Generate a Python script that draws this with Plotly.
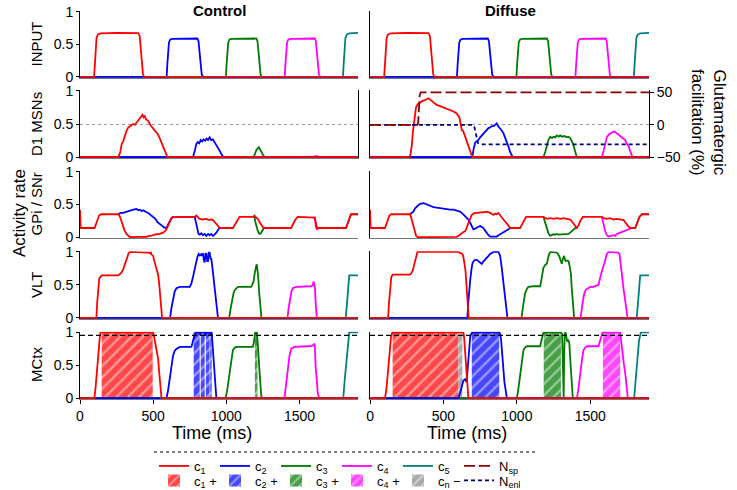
import plotly.graph_objects as go

OUT_PATH = "out.html"

# ---------------------------------------------------------------- data
# every series is a list of (time in ms, activity) pairs

ROW_LABELS = ["INPUT", "D1 MSNs", "GPi / SNr", "VLT", "MCtx"]
CONDITIONS = ["Control", "Diffuse"]
X_TICKS = [0, 500, 1000, 1500]
Y_TICKS = [0, 0.5, 1]
FAC_TICKS = [-50, 0, 50]
T_END = 1900
THRESHOLD = 0.955

# input is the same in both conditions
INPUT_C1 = [(0, 0), (96, 0), (102, 0.2), (107, 0.45), (113, 0.6), (122, 0.65), (140, 0.67), (250, 0.675),
            (398, 0.672), (408, 0.63), (415, 0.45), (422, 0.2), (430, 0.05), (438, 0), (1900, 0)]
INPUT_C2 = [(0, 0), (592, 0), (597, 0.2), (602, 0.42), (608, 0.53), (617, 0.575), (632, 0.585), (802, 0.59),
            (810, 0.55), (817, 0.38), (824, 0.16), (832, 0.04), (842, 0), (1900, 0)]
INPUT_C3 = [(0, 0), (997, 0), (1002, 0.2), (1007, 0.42), (1013, 0.53), (1022, 0.575), (1037, 0.585),
            (1205, 0.59), (1213, 0.55), (1220, 0.38), (1227, 0.16), (1234, 0.04), (1242, 0), (1900, 0)]
INPUT_C4 = [(0, 0), (1399, 0), (1404, 0.2), (1409, 0.42), (1415, 0.53), (1424, 0.575), (1439, 0.585),
            (1604, 0.59), (1612, 0.55), (1619, 0.38), (1626, 0.16), (1633, 0.04), (1642, 0), (1900, 0)]
INPUT_C5 = [(0, 0), (1797, 0), (1802, 0.2), (1808, 0.45), (1814, 0.6), (1823, 0.65), (1840, 0.67), (1900, 0.675)]

CTRL_D1_C1 = [(0, 0), (262, 0), (275, 0.08), (285, 0.2), (295, 0.24), (305, 0.33), (318, 0.4), (330, 0.45),
              (341, 0.47), (352, 0.49), (364, 0.5), (376, 0.49), (386, 0.52), (398, 0.55), (409, 0.58),
              (418, 0.6), (427, 0.64), (435, 0.6), (443, 0.62), (452, 0.57), (466, 0.55), (480, 0.49),
              (500, 0.44), (515, 0.39), (534, 0.34), (546, 0.28), (557, 0.22), (568, 0.14), (580, 0.08),
              (590, 0.03), (598, 0), (1900, 0)]
CTRL_D1_C2 = [(0, 0), (772, 0), (785, 0.1), (795, 0.2), (805, 0.23), (815, 0.21), (825, 0.26), (835, 0.24),
              (845, 0.27), (855, 0.25), (865, 0.28), (875, 0.26), (886, 0.3), (896, 0.26), (908, 0.27),
              (920, 0.23), (935, 0.17), (954, 0.1), (968, 0.04), (981, 0), (1900, 0)]
CTRL_D1_C3 = [(0, 0), (1186, 0), (1196, 0.05), (1205, 0.11), (1214, 0.13), (1222, 0.15), (1230, 0.12),
              (1240, 0.07), (1252, 0.03), (1266, 0), (1900, 0)]
CTRL_D1_C4 = [(0, 0), (1598, 0), (1606, 0.015), (1613, 0.02), (1622, 0.015), (1632, 0), (1900, 0)]
CTRL_D1_C5 = [(0, 0), (1900, 0)]

DIFF_D1_C1 = [(0, 0), (268, 0), (276, 0.05), (284, 0.17), (292, 0.38), (300, 0.56), (307, 0.68), (313, 0.75),
              (325, 0.8), (341, 0.83), (358, 0.85), (375, 0.86), (387, 0.88), (398, 0.89), (409, 0.87),
              (420, 0.85), (436, 0.82), (454, 0.79), (477, 0.77), (500, 0.75), (522, 0.73), (545, 0.71),
              (568, 0.69), (590, 0.66), (602, 0.63), (609, 0.6), (617, 0.5), (625, 0.41), (633, 0.4),
              (641, 0.36), (650, 0.3), (659, 0.24), (670, 0.16), (682, 0.09), (690, 0.04), (697, 0), (1900, 0)]
DIFF_D1_C2 = [(0, 0), (697, 0), (705, 0.12), (716, 0.22), (727, 0.24), (738, 0.26), (750, 0.3), (761, 0.33),
              (772, 0.36), (784, 0.39), (795, 0.42), (807, 0.44), (818, 0.45), (830, 0.47), (841, 0.47),
              (852, 0.49), (863, 0.51), (872, 0.47), (886, 0.44), (898, 0.4), (909, 0.36), (920, 0.3),
              (932, 0.24), (943, 0.16), (954, 0.08), (965, 0.02), (972, 0), (1900, 0)]
DIFF_D1_C3 = [(0, 0), (1181, 0), (1193, 0.08), (1204, 0.17), (1215, 0.26), (1227, 0.31), (1240, 0.29),
              (1250, 0.31), (1262, 0.3), (1272, 0.33), (1285, 0.31), (1295, 0.33), (1310, 0.31), (1325, 0.32),
              (1340, 0.3), (1352, 0.31), (1363, 0.29), (1375, 0.24), (1386, 0.18), (1398, 0.08), (1409, 0),
              (1900, 0)]
DIFF_D1_C4 = [(0, 0), (1579, 0), (1591, 0.1), (1602, 0.22), (1613, 0.3), (1625, 0.34), (1636, 0.36),
              (1648, 0.37), (1659, 0.39), (1670, 0.38), (1681, 0.36), (1693, 0.34), (1704, 0.32), (1715, 0.31),
              (1727, 0.29), (1738, 0.26), (1750, 0.2), (1761, 0.17), (1772, 0.09), (1784, 0.02), (1795, 0),
              (1900, 0)]
DIFF_D1_C5 = [(0, 0), (1900, 0)]

# glutamatergic facilitation (%), diffuse condition only
N_SP = [(0, 0), (322, 0), (328, 3), (333, 30), (338, 45), (345, 50), (1900, 50)]
N_ENK = [(0, 0), (700, 0), (710, -3), (718, -12), (726, -22), (735, -28), (750, -30), (1900, -30)]

# GPi / SNr: c1 is drawn in full, the others only where they leave the c1 trace
CTRL_GPI_C1 = [(0, 0.42), (4, 0.14), (100, 0.14), (110, 0.2), (120, 0.28), (130, 0.33), (145, 0.35),
               (264, 0.35), (275, 0.3), (285, 0.22), (295, 0.16), (305, 0.1), (318, 0.05), (330, 0.02),
               (341, 0.0), (400, 0.005), (454, 0.005), (470, 0.02), (490, 0.025), (523, 0.045), (545, 0.05),
               (568, 0.07), (585, 0.1), (595, 0.14), (605, 0.2), (613, 0.24), (625, 0.29), (636, 0.31),
               (784, 0.31), (795, 0.33), (805, 0.3), (818, 0.28), (840, 0.27), (860, 0.28), (880, 0.265),
               (900, 0.27), (910, 0.26), (932, 0.21), (945, 0.17), (956, 0.14), (1045, 0.14), (1060, 0.2),
               (1075, 0.27), (1090, 0.31), (1185, 0.31), (1193, 0.33), (1203, 0.3), (1215, 0.28), (1230, 0.22),
               (1245, 0.16), (1255, 0.14), (1443, 0.14), (1458, 0.2), (1472, 0.27), (1488, 0.31), (1600, 0.31),
               (1606, 0.3), (1613, 0.2), (1620, 0.14), (1818, 0.14), (1830, 0.22), (1842, 0.31), (1852, 0.35),
               (1900, 0.35)]
CTRL_GPI_C2 = [(264, 0.35), (275, 0.37), (295, 0.37), (318, 0.39), (340, 0.4), (364, 0.42), (386, 0.43),
               (398, 0.41), (409, 0.42), (420, 0.4), (432, 0.41), (443, 0.39), (454, 0.38), (466, 0.37),
               (477, 0.35), (490, 0.33), (500, 0.32), (515, 0.28), (530, 0.23), (545, 0.2), (560, 0.17),
               (575, 0.15), (590, 0.14), (605, 0.2), (625, 0.29), (636, 0.31), (784, 0.31), (795, 0.2),
               (802, 0.1), (810, 0.05), (818, 0.04), (830, 0.06), (841, 0.03), (852, 0.05), (863, 0.02),
               (875, 0.05), (886, 0.03), (897, 0.05), (909, 0.02), (920, 0.04), (932, 0.07), (943, 0.11),
               (954, 0.14), (970, 0.14)]
CTRL_GPI_C3 = [(1185, 0.31), (1193, 0.3), (1200, 0.22), (1207, 0.15), (1215, 0.1), (1222, 0.06), (1230, 0.05),
               (1238, 0.07), (1248, 0.11), (1258, 0.14), (1270, 0.14)]
CTRL_GPI_C4 = [(1600, 0.31), (1606, 0.26), (1613, 0.15), (1620, 0.12), (1627, 0.13), (1635, 0.14)]
CTRL_GPI_C5 = [(1818, 0.14), (1830, 0.22), (1842, 0.31), (1852, 0.35), (1900, 0.35)]

DIFF_GPI_C1 = [(0, 0.42), (4, 0.14), (102, 0.14), (112, 0.2), (122, 0.28), (132, 0.33), (145, 0.35),
               (273, 0.35), (284, 0.27), (295, 0.17), (305, 0.08), (314, 0.02), (325, 0.0), (560, 0.0),
               (590, 0.005), (602, 0.02), (613, 0.04), (625, 0.07), (636, 0.08), (648, 0.09), (659, 0.15),
               (670, 0.21), (682, 0.29), (693, 0.34), (705, 0.36), (716, 0.37), (738, 0.37), (750, 0.38),
               (772, 0.38), (795, 0.39), (818, 0.37), (841, 0.34), (852, 0.36), (863, 0.35), (875, 0.37),
               (886, 0.33), (898, 0.3), (909, 0.27), (925, 0.22), (943, 0.17), (956, 0.14), (1022, 0.14),
               (1035, 0.2), (1050, 0.27), (1063, 0.31), (1181, 0.31), (1193, 0.29), (1210, 0.28), (1227, 0.29),
               (1250, 0.28), (1272, 0.29), (1295, 0.28), (1318, 0.29), (1340, 0.28), (1363, 0.27), (1375, 0.24),
               (1386, 0.21), (1398, 0.17), (1409, 0.14), (1420, 0.18), (1435, 0.26), (1450, 0.31), (1579, 0.31),
               (1590, 0.29), (1613, 0.28), (1636, 0.29), (1659, 0.27), (1681, 0.28), (1704, 0.27), (1727, 0.26),
               (1740, 0.22), (1752, 0.18), (1765, 0.15), (1784, 0.14), (1806, 0.14), (1820, 0.22), (1835, 0.31),
               (1852, 0.35), (1900, 0.35)]
DIFF_GPI_C2 = [(273, 0.35), (284, 0.37), (295, 0.39), (307, 0.44), (318, 0.47), (330, 0.49), (341, 0.51),
               (352, 0.52), (364, 0.52), (375, 0.51), (386, 0.5), (398, 0.48), (409, 0.47), (432, 0.46),
               (454, 0.45), (477, 0.44), (500, 0.44), (522, 0.43), (545, 0.42), (568, 0.42), (590, 0.4),
               (613, 0.39), (630, 0.36), (648, 0.32), (659, 0.3), (670, 0.27), (682, 0.22), (693, 0.17),
               (704, 0.12), (716, 0.13), (727, 0.15), (738, 0.16), (750, 0.17), (761, 0.15), (772, 0.14),
               (784, 0.1), (795, 0.06), (807, 0.03), (818, 0.01), (829, 0.01), (841, 0.0), (852, 0.01),
               (863, 0.01), (875, 0.03), (886, 0.045), (898, 0.05), (909, 0.07), (920, 0.08), (932, 0.1),
               (943, 0.12), (954, 0.14), (966, 0.14)]
DIFF_GPI_C3 = [(1181, 0.31), (1193, 0.22), (1204, 0.12), (1215, 0.06), (1227, 0.02), (1238, 0.03),
               (1250, 0.045), (1262, 0.04), (1272, 0.05), (1284, 0.04), (1295, 0.04), (1306, 0.05), (1318, 0.04),
               (1330, 0.045), (1340, 0.04), (1352, 0.05), (1363, 0.07), (1375, 0.095), (1386, 0.12), (1398, 0.14),
               (1409, 0.14)]
DIFF_GPI_C4 = [(1579, 0.31), (1590, 0.2), (1602, 0.09), (1613, 0.03), (1625, 0.01), (1640, 0.02), (1659, 0.03),
               (1670, 0.02), (1681, 0.05), (1704, 0.07), (1727, 0.09), (1750, 0.11), (1765, 0.13), (1784, 0.14)]
DIFF_GPI_C5 = [(1806, 0.14), (1820, 0.22), (1835, 0.31), (1852, 0.35), (1900, 0.35)]

CTRL_VLT_C1 = [(0, 0), (112, 0), (118, 0.25), (125, 0.5), (132, 0.6), (148, 0.645), (261, 0.645), (272, 0.66),
               (284, 0.69), (296, 0.74), (307, 0.82), (315, 0.86), (323, 0.94), (332, 0.98), (341, 1.0),
               (450, 1.0), (470, 0.99), (477, 0.98), (485, 0.99), (489, 0.96), (500, 0.94), (506, 0.88),
               (511, 0.84), (520, 0.78), (527, 0.72), (534, 0.65), (541, 0.52), (547, 0.35), (552, 0.18),
               (557, 0.06), (561, 0), (1900, 0)]
CTRL_VLT_C2 = [(0, 0), (616, 0), (625, 0.15), (636, 0.3), (647, 0.4), (659, 0.45), (682, 0.47), (750, 0.47),
               (761, 0.52), (770, 0.6), (779, 0.69), (787, 0.8), (795, 0.87), (803, 0.93), (811, 0.97),
               (818, 0.95), (825, 0.97), (829, 0.94), (835, 0.97), (841, 0.97), (846, 0.88), (852, 0.84),
               (857, 0.97), (863, 0.98), (869, 0.86), (875, 0.86), (880, 0.99), (886, 0.99), (892, 0.9),
               (897, 0.9), (903, 0.8), (909, 0.67), (915, 0.55), (920, 0.42), (926, 0.27), (932, 0.13),
               (938, 0.04), (943, 0), (1900, 0)]
CTRL_VLT_C3 = [(0, 0), (1020, 0), (1030, 0.15), (1041, 0.3), (1050, 0.38), (1057, 0.42), (1068, 0.45),
               (1079, 0.47), (1170, 0.47), (1178, 0.5), (1186, 0.55), (1193, 0.66), (1200, 0.77), (1205, 0.8),
               (1209, 0.81), (1213, 0.75), (1218, 0.62), (1224, 0.4), (1231, 0.18), (1236, 0.06), (1240, 0),
               (1900, 0)]
CTRL_VLT_C4 = [(0, 0), (1418, 0), (1426, 0.15), (1436, 0.33), (1445, 0.4), (1454, 0.45), (1477, 0.47),
               (1579, 0.48), (1590, 0.5), (1597, 0.55), (1601, 0.52), (1606, 0.45), (1610, 0.25), (1613, 0.08),
               (1618, 0), (1900, 0)]
CTRL_VLT_C5 = [(0, 0), (1816, 0), (1824, 0.2), (1832, 0.45), (1840, 0.645), (1900, 0.645)]

DIFF_VLT_C1 = [(0, 0), (123, 0), (130, 0.25), (138, 0.5), (145, 0.62), (154, 0.655), (273, 0.655), (282, 0.68),
               (291, 0.72), (300, 0.8), (307, 0.87), (315, 0.94), (323, 1.0), (600, 1.0), (613, 0.99),
               (622, 0.98), (629, 0.97), (635, 0.93), (641, 0.87), (645, 0.8), (650, 0.72), (655, 0.55),
               (659, 0.42), (664, 0.22), (668, 0.08), (672, 0), (1900, 0)]
DIFF_VLT_C2 = [(0, 0), (663, 0), (668, 0.2), (675, 0.42), (682, 0.57), (690, 0.72), (697, 0.82), (705, 0.86),
               (716, 0.88), (727, 0.88), (738, 0.86), (750, 0.84), (761, 0.82), (770, 0.85), (784, 0.88),
               (795, 0.91), (807, 0.94), (818, 0.97), (830, 0.99), (841, 1.0), (875, 1.0), (880, 0.98),
               (886, 0.94), (895, 0.8), (904, 0.62), (912, 0.45), (920, 0.28), (928, 0.12), (936, 0), (1900, 0)]
DIFF_VLT_C3 = [(0, 0), (1032, 0), (1044, 0.2), (1056, 0.37), (1068, 0.44), (1079, 0.47), (1113, 0.48),
               (1159, 0.48), (1165, 0.55), (1170, 0.62), (1176, 0.7), (1181, 0.76), (1192, 0.8), (1204, 0.82),
               (1212, 0.9), (1220, 0.97), (1230, 1.0), (1265, 1.0), (1272, 0.99), (1280, 0.97), (1288, 0.94),
               (1297, 0.88), (1306, 0.82), (1314, 0.9), (1322, 0.94), (1328, 0.88), (1334, 0.86), (1343, 0.87),
               (1352, 0.86), (1360, 0.78), (1368, 0.67), (1374, 0.45), (1381, 0.18), (1386, 0.05), (1390, 0),
               (1900, 0)]
DIFF_VLT_C4 = [(0, 0), (1434, 0), (1446, 0.2), (1459, 0.37), (1470, 0.43), (1481, 0.45), (1500, 0.47),
               (1522, 0.47), (1545, 0.49), (1556, 0.5), (1564, 0.58), (1572, 0.67), (1584, 0.75), (1595, 0.82),
               (1604, 0.9), (1613, 0.97), (1625, 1.0), (1681, 1.0), (1690, 0.99), (1699, 0.97), (1707, 0.85),
               (1715, 0.67), (1723, 0.5), (1731, 0.37), (1740, 0.22), (1749, 0.08), (1754, 0), (1900, 0)]
DIFF_VLT_C5 = [(0, 0), (1816, 0), (1824, 0.2), (1832, 0.45), (1840, 0.645), (1900, 0.645)]

CTRL_MC_C1 = [(0, 0), (98, 0), (106, 0.15), (114, 0.38), (122, 0.62), (130, 0.88), (137, 0.97), (141, 1.0),
              (500, 1.0), (505, 0.95), (511, 0.88), (520, 0.8), (527, 0.73), (534, 0.6), (541, 0.4), (547, 0.2),
              (552, 0.06), (557, 0), (1900, 0)]
CTRL_MC_C2 = [(0, 0), (591, 0), (602, 0.12), (613, 0.28), (625, 0.48), (636, 0.65), (647, 0.72), (659, 0.75),
              (682, 0.78), (761, 0.78), (770, 0.85), (777, 0.93), (784, 0.98), (791, 1.0), (818, 1.0),
              (822, 0.96), (826, 1.0), (852, 1.0), (856, 0.95), (860, 1.0), (886, 1.0), (890, 0.96), (894, 1.0),
              (900, 1.0), (906, 0.8), (912, 0.55), (920, 0.28), (926, 0.12), (932, 0), (1900, 0)]
CTRL_MC_C3 = [(0, 0), (995, 0), (1006, 0.12), (1018, 0.28), (1030, 0.5), (1045, 0.73), (1058, 0.77),
              (1072, 0.78), (1181, 0.78), (1188, 0.85), (1193, 0.93), (1198, 1.0), (1209, 1.0), (1214, 0.88),
              (1218, 0.73), (1224, 0.5), (1231, 0.23), (1238, 0.06), (1243, 0), (1900, 0)]
CTRL_MC_C4 = [(0, 0), (1397, 0), (1408, 0.2), (1420, 0.48), (1432, 0.65), (1443, 0.75), (1454, 0.77),
              (1465, 0.78), (1560, 0.79), (1590, 0.8), (1602, 0.83), (1606, 0.75), (1610, 0.5), (1613, 0.38),
              (1618, 0.2), (1625, 0.08), (1632, 0.02), (1640, 0), (1900, 0)]
CTRL_MC_C5 = [(0, 0), (1799, 0), (1810, 0.3), (1822, 0.63), (1832, 0.88), (1840, 1.0), (1900, 1.0)]

DIFF_MC_C1 = [(0, 0), (102, 0), (112, 0.15), (125, 0.43), (135, 0.7), (143, 0.93), (152, 1.0), (636, 1.0),
              (641, 0.92), (645, 0.8), (650, 0.68), (655, 0.55), (660, 0.45), (665, 0.2), (670, 0), (1900, 0)]
DIFF_MC_C2 = [(0, 0), (602, 0), (613, 0.08), (625, 0.2), (636, 0.27), (648, 0.29), (656, 0.25), (660, 0.3),
              (668, 0.55), (675, 0.8), (682, 0.93), (690, 0.98), (697, 1.0), (880, 1.0), (886, 0.98),
              (893, 0.88), (900, 0.72), (907, 0.48), (915, 0.25), (924, 0.08), (932, 0), (1900, 0)]
DIFF_MC_C3 = [(0, 0), (1000, 0), (1009, 0.12), (1018, 0.28), (1030, 0.5), (1045, 0.73), (1056, 0.77),
              (1068, 0.79), (1159, 0.79), (1165, 0.85), (1170, 0.93), (1178, 0.98), (1183, 1.0), (1300, 1.0),
              (1308, 0.98), (1313, 0.5), (1316, 0.02), (1319, 0.02), (1322, 0.6), (1326, 0.98), (1332, 1.0),
              (1337, 0.92), (1343, 0.86), (1350, 0.88), (1357, 0.85), (1362, 0.65), (1368, 0.38), (1374, 0.15),
              (1381, 0), (1900, 0)]
DIFF_MC_C4 = [(0, 0), (1409, 0), (1420, 0.15), (1431, 0.38), (1443, 0.58), (1454, 0.73), (1465, 0.77),
              (1477, 0.79), (1556, 0.79), (1565, 0.86), (1572, 0.93), (1584, 1.0), (1704, 1.0), (1709, 0.9),
              (1715, 0.73), (1727, 0.55), (1738, 0.38), (1745, 0.2), (1749, 0.08), (1755, 0.02), (1761, 0),
              (1900, 0)]
DIFF_MC_C5 = [(0, 0), (1799, 0), (1810, 0.3), (1822, 0.63), (1832, 0.88), (1845, 1.0), (1900, 1.0)]

# selected-action windows in MCtx (hatched)
CTRL_HATCH_START = [148, 777, 825, 860, 890, 1195]
CTRL_HATCH_END = [497, 818, 852, 886, 900, 1213]
CTRL_HATCH_KIND = ["c1", "c2", "c2", "c2", "c2", "c3"]
DIFF_HATCH_START = [154, 602, 693, 1183, 1586]
DIFF_HATCH_END = [602, 629, 880, 1300, 1704]
DIFF_HATCH_KIND = ["c1", "cn", "c2", "c3", "c4"]

# ---------------------------------------------------------------- style

FONT = "Liberation Sans, Arial, Helvetica, sans-serif"
LINE_COLORS = {"c1": "#ff0000", "c2": "#0000ff", "c3": "#007a00", "c4": "#ff00ff", "c5": "#008080"}
HATCH_COLORS = {"c1": "rgba(255,0,0,0.72)", "c2": "rgba(0,0,255,0.72)", "c3": "rgba(0,122,0,0.72)",
                "c4": "rgba(255,0,255,0.72)", "cn": "rgba(140,140,140,0.75)"}
NAMES = {"c1": "c<sub>1</sub>", "c2": "c<sub>2</sub>", "c3": "c<sub>3</sub>", "c4": "c<sub>4</sub>",
         "c5": "c<sub>5</sub>"}
HATCH_NAMES = {"c1": "c<sub>1</sub> +", "c2": "c<sub>2</sub> +", "c3": "c<sub>3</sub> +",
               "c4": "c<sub>4</sub> +", "cn": "c<sub>n</sub> −"}

W, H = 737, 490
PLOT_LEFT, PLOT_RIGHT, PLOT_TOP, PLOT_BOTTOM = 80, 649, 11, 399   # pixels
M_L, M_T = PLOT_LEFT, PLOT_TOP
M_R, M_B = W - PLOT_RIGHT, H - PLOT_BOTTOM
X_DOM = [(0.0, 0.4886), (0.5097, 1.0)]
Y_DOM = [(0.828, 1.0), (0.621, 0.796), (0.415, 0.588), (0.207, 0.381), (0.0, 0.1735)]
Y_RANGE = [-0.012, 1.012]


def px_x(px):
    return (px - PLOT_LEFT) / (PLOT_RIGHT - PLOT_LEFT)


def px_y(py):
    return 1 - (py - PLOT_TOP) / (PLOT_BOTTOM - PLOT_TOP)


def panel_series():
    ctrl = [
        [INPUT_C5, INPUT_C4, INPUT_C3, INPUT_C2, INPUT_C1],
        [CTRL_D1_C5, CTRL_D1_C4, CTRL_D1_C3, CTRL_D1_C2, CTRL_D1_C1],
        [CTRL_GPI_C5, CTRL_GPI_C4, CTRL_GPI_C3, CTRL_GPI_C2, CTRL_GPI_C1],
        [CTRL_VLT_C5, CTRL_VLT_C4, CTRL_VLT_C3, CTRL_VLT_C2, CTRL_VLT_C1],
        [CTRL_MC_C5, CTRL_MC_C4, CTRL_MC_C3, CTRL_MC_C2, CTRL_MC_C1],
    ]
    diff = [
        [INPUT_C5, INPUT_C4, INPUT_C3, INPUT_C2, INPUT_C1],
        [DIFF_D1_C5, DIFF_D1_C4, DIFF_D1_C3, DIFF_D1_C2, DIFF_D1_C1],
        [DIFF_GPI_C5, DIFF_GPI_C4, DIFF_GPI_C3, DIFF_GPI_C2, DIFF_GPI_C1],
        [DIFF_VLT_C5, DIFF_VLT_C4, DIFF_VLT_C3, DIFF_VLT_C2, DIFF_VLT_C1],
        [DIFF_MC_C5, DIFF_MC_C4, DIFF_MC_C3, DIFF_MC_C2, DIFF_MC_C1],
    ]
    return [ctrl, diff]


def add_hatches(fig, axis_n, starts, ends, kinds, legend_kinds):
    for kind in ["c1", "cn", "c2", "c3", "c4"]:
        idx = [i for i, k in enumerate(kinds) if k == kind]
        if not idx:
            continue
        fig.add_trace(go.Bar(
            x=[(starts[i] + ends[i]) / 2 for i in idx],
            width=[ends[i] - starts[i] for i in idx],
            y=[1.0 for _ in idx],
            base=0,
            marker=dict(color=HATCH_COLORS[kind], line=dict(width=0),
                        pattern=dict(shape="/", fillmode="overlay", fgcolor="white",
                                     fgopacity=0.45, size=8, solidity=0.28)),
            name=HATCH_NAMES[kind],
            legend="legend2",
            legendrank=["c1", "c2", "c3", "c4", "cn"].index(kind) + 1,
            showlegend=kind in legend_kinds,
            xaxis=f"x{axis_n}", yaxis=f"y{axis_n}",
            hoverinfo="skip",
        ))


def build_figure():
    fig = go.Figure()
    series = panel_series()
    channels = ["c5", "c4", "c3", "c2", "c1"]

    # hatched areas first so the lines sit on top
    add_hatches(fig, 9, CTRL_HATCH_START, CTRL_HATCH_END, CTRL_HATCH_KIND, {"c1", "c2", "c3"})
    add_hatches(fig, 10, DIFF_HATCH_START, DIFF_HATCH_END, DIFF_HATCH_KIND, {"c4", "cn"})

    for col in range(2):
        for row in range(5):
            n = row * 2 + col + 1
            for ch, pts in zip(channels, series[col][row]):
                fig.add_trace(go.Scatter(
                    x=[p[0] for p in pts], y=[p[1] for p in pts],
                    mode="lines", line=dict(color=LINE_COLORS[ch], width=1.8),
                    name=NAMES[ch], legend="legend",
                    legendrank=int(ch[1]),
                    showlegend=(row == 0 and col == 0),
                    xaxis=f"x{n}", yaxis=f"y{n}", hoverinfo="skip",
                ))

    # facilitation on the right-hand axis of the diffuse D1 panel
    fig.add_trace(go.Scatter(
        x=[p[0] for p in N_ENK], y=[p[1] for p in N_ENK], mode="lines",
        line=dict(color="#000080", width=1.8, dash="4px,3px"),
        name="N<sub>enk</sub>", legend="legend2", legendrank=6,
        xaxis="x4", yaxis="y11", hoverinfo="skip",
    ))
    fig.add_trace(go.Scatter(
        x=[p[0] for p in N_SP], y=[p[1] for p in N_SP], mode="lines",
        line=dict(color="#8b0000", width=1.8, dash="11px,4px"),
        name="N<sub>sp</sub>", legend="legend", legendrank=6,
        xaxis="x4", yaxis="y11", hoverinfo="skip",
    ))

    layout = dict(
        width=W, height=H,
        margin=dict(l=M_L, r=M_R, t=M_T, b=M_B, autoexpand=False),
        paper_bgcolor="white", plot_bgcolor="white",
        font=dict(family=FONT, size=14, color="black"),
        barmode="overlay",
        showlegend=True,
    )
    tick_font = dict(family=FONT, size=14, color="black")
    for row in range(5):
        for col in range(2):
            n = row * 2 + col + 1
            bottom = row == 4
            layout[f"xaxis{n}"] = dict(
                domain=X_DOM[col], anchor=f"y{n}", range=[0, T_END],
                showgrid=False, zeroline=False, showline=True, linecolor="#777", linewidth=1,
                tickvals=X_TICKS, ticks="outside" if bottom else "", ticklen=4, tickcolor="black",
                showticklabels=bottom, tickfont=tick_font, automargin=False,
            )
            layout[f"yaxis{n}"] = dict(
                domain=Y_DOM[row], anchor=f"x{n}", range=Y_RANGE,
                zeroline=False, showline=True, linecolor="black", linewidth=1,
                tickvals=Y_TICKS, ticktext=["0", "0.5", "1"],
                ticks="outside" if col == 0 else "", ticklen=3, tickcolor="black",
                showticklabels=col == 0, tickfont=tick_font,
                showgrid=row == 1, gridcolor="#999", griddash="dot", gridwidth=1,
                mirror=(row == 1 and col == 0), automargin=False,
            )
    layout["yaxis11"] = dict(
        overlaying="y4", anchor="x4", side="right", range=[-51.2, 53.3],
        tickvals=FAC_TICKS, ticks="outside", ticklen=4, tickcolor="black",
        showline=True, linecolor="black", linewidth=1, showgrid=False, zeroline=False,
        tickfont=tick_font, automargin=False,
    )
    legend_common = dict(
        orientation="h", xanchor="left", yanchor="middle",
        entrywidth=16, entrywidthmode="pixels", bgcolor="rgba(0,0,0,0)",
        font=dict(family=FONT, size=13, color="black"), itemwidth=30,
        traceorder="normal",
    )
    layout["legend"] = dict(legend_common, x=px_x(154), y=px_y(466))
    layout["legend2"] = dict(legend_common, x=px_x(154), y=px_y(480.5))
    fig.update_layout(**layout)

    # threshold in MCtx
    for n in (9, 10):
        fig.add_shape(type="line", xref=f"x{n} domain", yref=f"y{n}", x0=0, x1=1,
                      y0=THRESHOLD, y1=THRESHOLD, line=dict(color="black", width=1.3, dash="5px,3px"))
    # dotted separator above the legend
    fig.add_shape(type="line", xref="paper", yref="paper", x0=px_x(154), x1=px_x(537),
                  y0=px_y(452), y1=px_y(452), line=dict(color="black", width=1.2, dash="dot"))

    ann = []
    ann.append(dict(text="<b>Control</b>", x=px_x(219), y=px_y(10), font=dict(size=15)))
    ann.append(dict(text="<b>Diffuse</b>", x=px_x(510), y=px_y(10), font=dict(size=15)))
    row_mid = [44.5, 124, 204.5, 285, 365]
    for label, mid in zip(ROW_LABELS, row_mid):
        ann.append(dict(text=label, x=px_x(36), y=px_y(mid), textangle=-90, font=dict(size=15)))
    ann.append(dict(text="Activity rate", x=px_x(19), y=px_y(213), textangle=-90, font=dict(size=17)))
    ann.append(dict(text="Glutamatergic<br>facilitation (%)", x=px_x(709), y=px_y(122),
                    textangle=90, font=dict(size=17)))
    ann.append(dict(text="Time (ms)", x=px_x(212), y=px_y(433), font=dict(size=18)))
    ann.append(dict(text="Time (ms)", x=px_x(467), y=px_y(433), font=dict(size=18)))
    for a in ann:
        a.update(xref="paper", yref="paper", showarrow=False, xanchor="center", yanchor="middle")
        a["font"] = dict(family=FONT, color="black", **a["font"])
        fig.add_annotation(**a)
    return fig


def main() -> None:
    fig = build_figure()
    # the page's default body margin would push the figure 8 px off the window corner
    fig.write_html(OUT_PATH, config={"displayModeBar": False},
                   post_script="document.body.style.margin = '0';")


if __name__ == "__main__":
    main()
